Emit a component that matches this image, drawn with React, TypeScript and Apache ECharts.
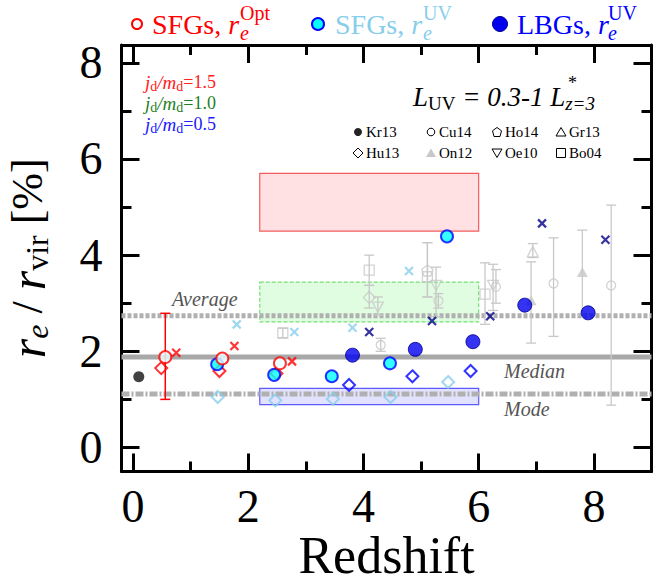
import React, { useEffect, useRef } from "react";
import * as echarts from "echarts";

// ---------- axis ticks ----------
const X_MAJOR = [0, 2, 4, 6, 8];
const X_MINOR = [1, 3, 5, 7];
const Y_MAJOR = [0, 2, 4, 6, 8];
const Y_MINOR = [1, 3, 5, 7];
const X_MIN = -0.2;
const X_MAX = 9;
const Y_MIN = -0.5;
const Y_MAX = 8.37;

// ---------- observations ----------
const kr13 = [[0.1, 1.47]];
const sfgOpt = [[0.56, 1.88], [1.55, 1.85], [2.55, 1.75]];
const sfgOptErr = [[0.56, 1.88, 1.0, 2.79]];
const sfgUV = [[1.46, 1.73], [2.45, 1.51], [3.45, 1.48], [4.46, 1.75], [5.45, 4.39]];
const lbgUV = [[3.81, 1.92], [4.9, 2.04], [5.9, 2.2], [6.8, 2.96], [7.9, 2.8]];

// ---------- model predictions ----------
const optDiamond = [[0.49, 1.65], [1.5, 1.59], [2.49, 1.54]];
const optCross = [[0.75, 1.97], [1.76, 2.11], [2.76, 1.79]];
const uvDiamond = [[1.47, 1.05], [2.47, 0.98], [3.47, 1.01], [4.47, 1.05], [5.47, 1.36]];
const uvCross = [[1.8, 2.56], [2.8, 2.4], [3.81, 2.49], [4.79, 3.67]];
const lbgDiamond = [[3.75, 1.3], [4.85, 1.48], [5.86, 1.59]];
const lbgCross = [[4.1, 2.4], [5.19, 2.63], [6.2, 2.73], [7.1, 4.66], [8.2, 4.32]];

// ---------- literature: [z, value, low, high] ----------
const cu14 = [[4.3, 2.13, 2.0, 2.27], [5.3, 3.05, 2.9, 3.2], [6.3, 3.34, 3.0, 3.7], [7.3, 3.41, 2.31, 4.36], [8.3, 3.37, 0.88, 5.04]];
const ho14 = [[5.11, 3.68, 3.13, 4.26]];
const gr13 = [[6.94, 4.07, 3.95, 4.24]];
const hu13 = [[4.1, 3.12, 2.9, 3.37]];
const on12 = [[6.91, 3.06, 2.17, 3.86], [7.8, 3.65, 2.75, 4.52]];
const oe10 = [[4.25, 2.92, 2.75, 3.13], [5.26, 3.37, 2.72, 3.75], [6.25, 3.37, 2.85, 3.81]];
const bo04 = [[2.6, 2.38, 2.28, 2.48], [4.1, 3.69, 3.37, 4.0], [5.11, 3.55, 3.13, 4.26], [6.11, 3.19, 2.56, 3.84]];

// ---------- reference lines & boxes ----------
const averageLevel = 2.74;
const medianLevel = 1.88;
const modeLevel = 1.11;
// [x0, y0, x1, y1]
const boxHigh = [2.2, 4.5, 6.0, 5.7];
const boxMid = [2.2, 2.61, 6.0, 3.44];
const boxLow = [2.2, 0.89, 6.0, 1.23];

const SERIF = '"Liberation Serif", "DejaVu Serif", serif';
const GRAY = "#c8c8c8";
const RED = "#ff0000";
const SKY = "#87ceeb";
const BLUE = "#0000ff";
const NAVY = "#00008b";

const CROSS = "path://M0,0L10,10M10,0L0,10";
const PENTAGON = "path://M5,0L10,3.8L8.1,10L1.9,10L0,3.8Z";
const TRI_DOWN = "path://M0,0L10,0L5,8.66Z";

function boxSeries(box: number[], fill: string, stroke: string, dashed: boolean) {
  return {
    type: "custom",
    z: 1,
    silent: true,
    data: [box],
    encode: { x: [0, 2], y: [1, 3] },
    renderItem: (_p: any, api: any) => {
      const a = api.coord([api.value(0), api.value(3)]);
      const b = api.coord([api.value(2), api.value(1)]);
      return {
        type: "rect",
        shape: { x: a[0], y: a[1], width: b[0] - a[0], height: b[1] - a[1] },
        style: { fill, stroke, lineWidth: 1.2, lineDash: dashed ? [4, 2] : null },
      };
    },
  };
}

function hLine(level: number, type: any, color: string, width: number) {
  return {
    type: "line",
    z: 2,
    silent: true,
    symbol: "none",
    data: [[X_MIN, level], [X_MAX, level]],
    lineStyle: { color, width, type, cap: "butt" },
  };
}

function errSeries(data: number[][], color: string, lw: number, cap: number, z: number) {
  return {
    type: "custom",
    z,
    silent: true,
    data,
    encode: { x: 0, y: [2, 3] },
    renderItem: (_p: any, api: any) => {
      const x = api.value(0);
      const lo = api.coord([x, api.value(2)]);
      const hi = api.coord([x, api.value(3)]);
      const st = { stroke: color, lineWidth: lw };
      return {
        type: "group",
        children: [
          { type: "line", shape: { x1: lo[0], y1: lo[1], x2: hi[0], y2: hi[1] }, style: st },
          { type: "line", shape: { x1: lo[0] - cap, y1: lo[1], x2: lo[0] + cap, y2: lo[1] }, style: st },
          { type: "line", shape: { x1: hi[0] - cap, y1: hi[1], x2: hi[0] + cap, y2: hi[1] }, style: st },
        ],
      };
    },
  };
}

function scatter(data: number[][], symbol: string, size: any, itemStyle: any, z: number) {
  return {
    type: "scatter",
    z,
    silent: true,
    data: data.map((d) => [d[0], d[1]]),
    symbol,
    symbolSize: size,
    itemStyle,
  };
}

const openStyle = (c: string, w: number) => ({ color: "rgba(255,255,255,0)", borderColor: c, borderWidth: w });

function legendSymbol(kind: string, cx: number, cy: number) {
  const st = { fill: "none", stroke: "#000", lineWidth: 1 };
  const s = 4.5;
  switch (kind) {
    case "dot":
      return { type: "circle", shape: { cx, cy, r: 4 }, style: { fill: "#222" } };
    case "circle":
      return { type: "circle", shape: { cx, cy, r: 3.8 }, style: st };
    case "pentagon":
      return { type: "polygon", shape: { points: [[cx, cy - s], [cx + s, cy - 1.2], [cx + 3, cy + s], [cx - 3, cy + s], [cx - s, cy - 1.2]] }, style: st };
    case "tri":
      return { type: "polygon", shape: { points: [[cx, cy - s], [cx + s + 0.5, cy + s - 0.5], [cx - s - 0.5, cy + s - 0.5]] }, style: st };
    case "trifill":
      return { type: "polygon", shape: { points: [[cx, cy - s], [cx + s + 0.5, cy + s - 0.5], [cx - s - 0.5, cy + s - 0.5]] }, style: { fill: "#c8c8c8" } };
    case "tridown":
      return { type: "polygon", shape: { points: [[cx - s - 0.5, cy - s + 0.5], [cx + s + 0.5, cy - s + 0.5], [cx, cy + s]] }, style: st };
    case "diamond":
      return { type: "polygon", shape: { points: [[cx, cy - s - 0.5], [cx + s + 0.5, cy], [cx, cy + s + 0.5], [cx - s - 0.5, cy]] }, style: st };
    default:
      return { type: "rect", shape: { x: cx - 4.5, y: cy - 4.5, width: 9, height: 9 }, style: st };
  }
}

const litLegend = [
  ["dot", "Kr13", 358, 132], ["circle", "Cu14", 431, 132], ["pentagon", "Ho14", 497, 132], ["tri", "Gr13", 561, 132],
  ["diamond", "Hu13", 358, 153], ["trifill", "On12", 431, 153], ["tridown", "Oe10", 497, 153], ["rect", "Bo04", 561, 153],
];

function txt(text: string, x: number, y: number, fill: string, size: number, italic = false, extra: any = {}) {
  return {
    type: "text",
    z: 50,
    style: { text, x, y, fill, fontFamily: SERIF, fontSize: size, fontStyle: italic ? "italic" : "normal", verticalAlign: "middle", ...extra },
  };
}

function jdText(value: string, y: number, color: string) {
  return {
    type: "text",
    z: 50,
    style: {
      text: `{i|j}{s|d}{i|/m}{s|d}{n|=${value}}`,
      x: 145,
      y,
      verticalAlign: "middle",
      fill: color,
      rich: {
        i: { fontFamily: SERIF, fontStyle: "italic", fontSize: 19, fill: color, lineHeight: 24 },
        s: { fontFamily: SERIF, fontSize: 14, fill: color, padding: [9, 0, 0, 0], lineHeight: 24 },
        n: { fontFamily: SERIF, fontSize: 18, fill: color, lineHeight: 24 },
      },
    },
  };
}

function legendLabel(x: number, base: string, sup: string, color: string, supX: number) {
  return [
    {
      type: "text",
      z: 50,
      style: {
        text: `{n|${base}}{i|r}`,
        x,
        y: 24,
        verticalAlign: "middle",
        rich: {
          n: { fontFamily: SERIF, fontSize: 28, fill: color },
          i: { fontFamily: SERIF, fontSize: 28, fontStyle: "italic", fill: color },
        },
      },
    },
    txt(sup, supX, 13, color, 20),
    txt("e", supX, 33, color, 20, true),
  ];
}

export default function App() {
  const ref = useRef<HTMLDivElement>(null);
  useEffect(() => {
    if (!ref.current) return;
    const chart = echarts.init(ref.current, undefined, { renderer: "svg" });

    const axisCommonX = { type: "value", min: X_MIN, max: X_MAX, splitLine: { show: false } };
    const axisCommonY = { type: "value", min: Y_MIN, max: Y_MAX, splitLine: { show: false } };
    const lineBlack = { show: true, lineStyle: { color: "#000", width: 3 } };

    const option: any = {
      animation: false,
      backgroundColor: "#fff",
      grid: { left: 121.5, right: 3.5, top: 45, bottom: 115.5, containLabel: false, outerBoundsMode: "none" },
      xAxis: [
        {
          ...axisCommonX,
          position: "bottom",
          axisLine: { ...lineBlack, onZero: false },
          axisTick: { show: true, inside: true, length: 18, lineStyle: { color: "#000", width: 3 }, customValues: X_MAJOR },
          axisLabel: { show: true, customValues: X_MAJOR, fontFamily: SERIF, fontSize: 46, color: "#000", margin: 12 },
          name: "Redshift",
          nameLocation: "middle",
          nameGap: 58,
          nameMoveOverlap: false,
          nameTextStyle: { fontFamily: SERIF, fontSize: 52, color: "#000", lineHeight: 52 },
        },
        {
          ...axisCommonX,
          position: "bottom",
          axisLine: { show: false, onZero: false },
          axisTick: { show: true, inside: true, length: 10, lineStyle: { color: "#000", width: 3 }, customValues: X_MINOR },
          axisLabel: { show: false },
        },
        {
          ...axisCommonX,
          position: "top",
          axisLine: { ...lineBlack, onZero: false },
          axisTick: { show: true, inside: true, length: 18, lineStyle: { color: "#000", width: 3 }, customValues: X_MAJOR },
          axisLabel: { show: false },
        },
        {
          ...axisCommonX,
          position: "top",
          axisLine: { show: false, onZero: false },
          axisTick: { show: true, inside: true, length: 10, lineStyle: { color: "#000", width: 3 }, customValues: X_MINOR },
          axisLabel: { show: false },
        },
      ],
      yAxis: [
        {
          ...axisCommonY,
          position: "left",
          axisLine: { ...lineBlack, onZero: false },
          axisTick: { show: true, inside: true, length: 18, lineStyle: { color: "#000", width: 3 }, customValues: Y_MAJOR },
          axisLabel: { show: true, customValues: Y_MAJOR, fontFamily: SERIF, fontSize: 46, color: "#000", margin: 19 },
          name: "{i|r}{s|e}{n| / }{i|r}{t|vir}{n| [%]}",
          nameLocation: "middle",
          nameRotate: 90,
          nameGap: 66,
          nameMoveOverlap: false,
          nameTextStyle: {
            rich: {
              i: { fontFamily: SERIF, fontStyle: "italic", fontSize: 50, color: "#000", lineHeight: 56 },
              n: { fontFamily: SERIF, fontSize: 44, color: "#000", lineHeight: 56 },
              s: { fontFamily: SERIF, fontStyle: "italic", fontSize: 32, color: "#000", lineHeight: 56, padding: [18, 0, 0, 0] },
              t: { fontFamily: SERIF, fontSize: 32, color: "#000", lineHeight: 56, padding: [18, 0, 0, 0] },
            },
          },
        },
        {
          ...axisCommonY,
          position: "left",
          axisLine: { show: false, onZero: false },
          axisTick: { show: true, inside: true, length: 10, lineStyle: { color: "#000", width: 3 }, customValues: Y_MINOR },
          axisLabel: { show: false },
        },
        {
          ...axisCommonY,
          position: "right",
          axisLine: { ...lineBlack, onZero: false },
          axisTick: { show: true, inside: true, length: 18, lineStyle: { color: "#000", width: 3 }, customValues: Y_MAJOR },
          axisLabel: { show: false },
        },
        {
          ...axisCommonY,
          position: "right",
          axisLine: { show: false, onZero: false },
          axisTick: { show: true, inside: true, length: 10, lineStyle: { color: "#000", width: 3 }, customValues: Y_MINOR },
          axisLabel: { show: false },
        },
      ],
      series: [
        boxSeries(boxHigh, "#ffe1e4", "#f25c5c", false),
        boxSeries(boxMid, "#e1fde1", "#74e074", true),
        boxSeries(boxLow, "#e2e2ff", "#5a5aff", false),
        hLine(averageLevel, [4, 2], "#b0b0b0", 5),
        hLine(medianLevel, "solid", "#a8a8a8", 5),
        hLine(modeLevel, [8, 2, 2, 2], "#b0b0b0", 5),
        // literature error bars
        errSeries([...cu14, ...ho14, ...gr13, ...hu13, ...on12, ...oe10, ...bo04], GRAY, 1.3, 5, 3),
        scatter(cu14, "circle", 9, openStyle(GRAY, 1.3), 4),
        scatter(ho14, PENTAGON, [11, 11], openStyle(GRAY, 1.3), 4),
        scatter(gr13, "triangle", [11, 10], openStyle(GRAY, 1.3), 4),
        scatter(hu13, "diamond", [12, 12], openStyle(GRAY, 1.3), 4),
        scatter(on12, "triangle", [11, 10], { color: GRAY }, 4),
        scatter(oe10, TRI_DOWN, [11, 10], openStyle(GRAY, 1.3), 4),
        scatter(bo04, "rect", [10, 10], openStyle(GRAY, 1.3), 4),
        // models
        scatter(optDiamond, "diamond", [12, 12], openStyle(RED, 2), 6),
        scatter(optCross, CROSS, [8, 8], openStyle(RED, 2.2), 6),
        scatter(uvDiamond, "diamond", [12, 12], openStyle(SKY, 2), 6),
        scatter(uvCross, CROSS, [8, 8], openStyle(SKY, 2.2), 6),
        scatter(lbgDiamond, "diamond", [12, 12], openStyle(BLUE, 2), 6),
        scatter(lbgCross, CROSS, [8, 8], openStyle(NAVY, 2.2), 6),
        // observations
        errSeries(sfgOptErr, RED, 1.5, 5, 7),
        scatter(kr13, "circle", 11, { color: "#111" }, 8),
        scatter(sfgUV, "circle", 12, { color: "#00ffff", borderColor: BLUE, borderWidth: 2 }, 8),
        scatter(sfgOpt, "circle", 12, { color: "#e8ffff", borderColor: RED, borderWidth: 2 }, 9),
        scatter(lbgUV, "circle", 14, { color: "#0000ee", borderColor: NAVY, borderWidth: 1 }, 9),
      ],
      graphic: [
        // top legend
        { type: "circle", z: 50, shape: { cx: 137, cy: 24, r: 5 }, style: { fill: "#fff", stroke: RED, lineWidth: 2 } },
        ...legendLabel(152, "SFGs, ", "Opt", RED, 240),
        { type: "circle", z: 50, shape: { cx: 318, cy: 24, r: 6 }, style: { fill: "#00ffff", stroke: BLUE, lineWidth: 2 } },
        ...legendLabel(335, "SFGs, ", "UV", SKY, 423),
        { type: "circle", z: 50, shape: { cx: 500, cy: 24, r: 7.5 }, style: { fill: "#0000ee", stroke: NAVY, lineWidth: 1 } },
        ...legendLabel(517, "LBGs, ", "UV", BLUE, 608),
        // j_d/m_d labels
        jdText("1.5", 82, "#ff2020"),
        jdText("1.0", 103, "#1f7f1f"),
        jdText("0.5", 124, "#2020ff"),
        // L_UV label
        {
          type: "text",
          z: 50,
          style: {
            text: "{i|L}{s|UV}{i| = 0.3-1 L}{t|z=3}",
            x: 413,
            y: 97,
            verticalAlign: "middle",
            rich: {
              i: { fontFamily: SERIF, fontStyle: "italic", fontSize: 27, fill: "#000", lineHeight: 34 },
              s: { fontFamily: SERIF, fontSize: 19, fill: "#000", lineHeight: 34, padding: [12, 0, 0, 0] },
              t: { fontFamily: SERIF, fontStyle: "italic", fontSize: 19, fill: "#000", lineHeight: 34, padding: [12, 0, 0, 0] },
            },
          },
        },
        txt("*", 568, 83, "#000", 18),
        // literature legend
        ...litLegend.flatMap(([k, label, x, y]: any) => [
          { ...legendSymbol(k, x, y), z: 50 },
          txt(label, x + 8, y, "#000", 15),
        ]),
        // line annotations
        txt("Average", 172, 299, "#555", 20, true),
        txt("Median", 504, 371, "#555", 20, true),
        txt("Mode", 504, 409, "#555", 20, true),
      ],
    };
    chart.setOption(option);
    return () => chart.dispose();
  }, []);
  return <div ref={ref} style={{ width: 655, height: 587, position: "absolute", left: 0, top: 0 }} />;
}
